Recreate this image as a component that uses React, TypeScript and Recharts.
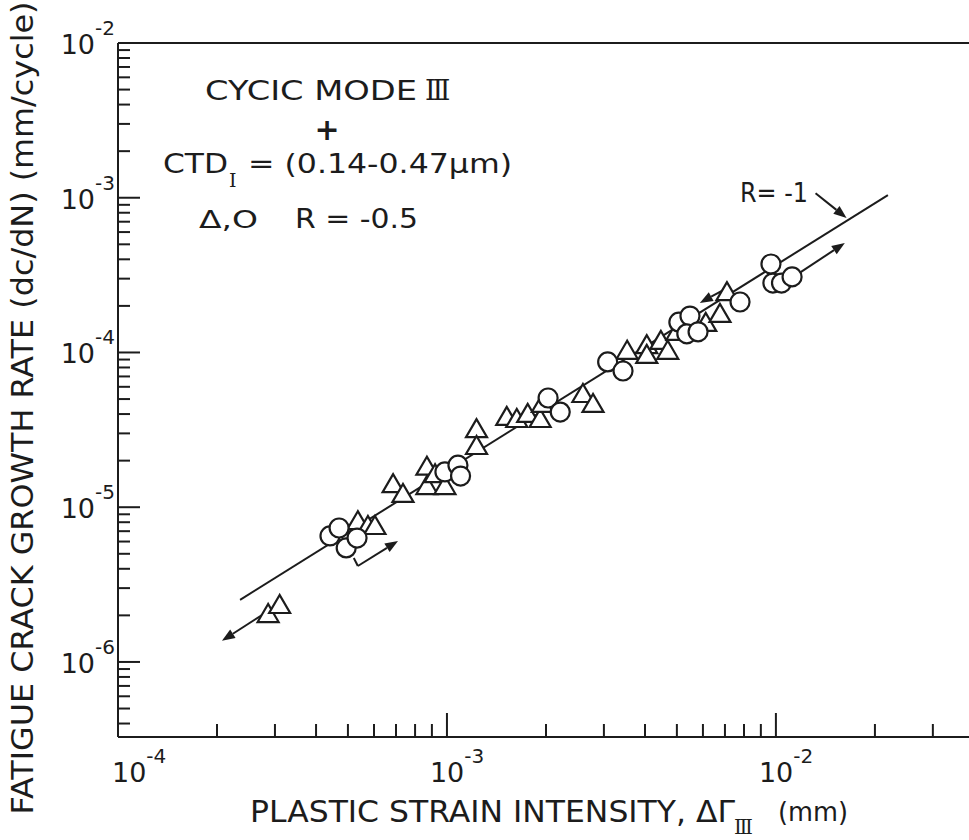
import React from 'react'
import { ComposedChart, Scatter, XAxis, YAxis, ReferenceLine } from 'recharts'

// R = -0.5 data
const triangles = [
  { x: 2.86e-4, y: 2.01e-6 },
  { x: 3.1e-4, y: 2.3e-6 },
  { x: 5.36e-4, y: 8.0e-6 },
  { x: 5.75e-4, y: 7.45e-6 },
  { x: 6.04e-4, y: 7.45e-6 },
  { x: 6.86e-4, y: 1.39e-5 },
  { x: 7.35e-4, y: 1.2e-5 },
  { x: 8.69e-4, y: 1.8e-5 },
  { x: 8.69e-4, y: 1.35e-5 },
  { x: 9.2e-4, y: 1.61e-5 },
  { x: 9.86e-4, y: 1.35e-5 },
  { x: 1.23e-3, y: 3.15e-5 },
  { x: 1.23e-3, y: 2.45e-5 },
  { x: 1.52e-3, y: 3.78e-5 },
  { x: 1.63e-3, y: 3.66e-5 },
  { x: 1.76e-3, y: 3.95e-5 },
  { x: 1.92e-3, y: 3.66e-5 },
  { x: 1.95e-3, y: 4.58e-5 },
  { x: 2.59e-3, y: 5.31e-5 },
  { x: 2.78e-3, y: 4.58e-5 },
  { x: 3.53e-3, y: 1.01e-4 },
  { x: 4.05e-3, y: 1.1e-4 },
  { x: 4.05e-3, y: 9.5e-5 },
  { x: 4.47e-3, y: 1.17e-4 },
  { x: 4.69e-3, y: 1.01e-4 },
  { x: 5.0e-3, y: 1.34e-4 },
  { x: 6.12e-3, y: 1.53e-4 },
  { x: 6.76e-3, y: 1.75e-4 },
  { x: 7.1e-3, y: 2.42e-4 },
]

const circles = [
  { x: 4.41e-4, y: 6.52e-6 },
  { x: 4.7e-4, y: 7.34e-6 },
  { x: 4.94e-4, y: 5.46e-6 },
  { x: 5.33e-4, y: 6.32e-6 },
  { x: 9.86e-4, y: 1.69e-5 },
  { x: 1.08e-3, y: 1.87e-5 },
  { x: 1.1e-3, y: 1.59e-5 },
  { x: 2.03e-3, y: 5.08e-5 },
  { x: 2.21e-3, y: 4.12e-5 },
  { x: 3.08e-3, y: 8.69e-5 },
  { x: 3.43e-3, y: 7.59e-5 },
  { x: 5.07e-3, y: 1.57e-4 },
  { x: 5.48e-3, y: 1.72e-4 },
  { x: 5.36e-3, y: 1.32e-4 },
  { x: 5.8e-3, y: 1.36e-4 },
  { x: 7.78e-3, y: 2.12e-4 },
  { x: 9.66e-3, y: 3.73e-4 },
  { x: 9.79e-3, y: 2.81e-4 },
  { x: 1.04e-2, y: 2.81e-4 },
  { x: 1.12e-2, y: 3.08e-4 },
]

// R = -1 fit
const fitLine = [
  { x: 2.35e-4, y: 2.52e-6 },
  { x: 2.19e-2, y: 1.04e-3 },
]

// arrows drawn on the plot (from -> to), head at the "to" end
const arrows = [
  { from: { x: 2.74e-4, y: 2.01e-6 }, to: { x: 2.07e-4, y: 1.37e-6 }, head: true },
  { from: { x: 5.21e-4, y: 4.7e-6 }, to: { x: 5.36e-4, y: 4.17e-6 }, head: false },
  { from: { x: 5.36e-4, y: 4.17e-6 }, to: { x: 7.1e-4, y: 6.05e-6 }, head: true },
  { from: { x: 7.1e-3, y: 2.61e-4 }, to: { x: 5.87e-3, y: 2.09e-4 }, head: true },
  { from: { x: 1.18e-2, y: 3.27e-4 }, to: { x: 1.62e-2, y: 5.1e-4 }, head: true },
  { from: { x: 1.32e-2, y: 1.07e-3 }, to: { x: 1.64e-2, y: 7.4e-4 }, head: true },
]

const xDecades = [1e-4, 1e-3, 1e-2]
const yDecades = [1e-6, 1e-5, 1e-4, 1e-3, 1e-2]
const minorSteps = [2, 3, 4, 5, 6, 7, 8, 9]

const xDomain = [1e-4, Math.pow(10, -1.413)]
const yDomain = [Math.pow(10, -6.485), 1e-2]

const ink = '#1c1c1c'
const font = '"DejaVu Sans", sans-serif'
const serif = '"DejaVu Serif", serif'

const withMinor = (decades: number[], lo: number, hi: number) => {
  const out: number[] = []
  ;[decades[0] / 10, ...decades].forEach((d) => {
    out.push(d)
    minorSteps.forEach((k) => out.push(d * k))
  })
  return out.filter((v) => v >= lo * 0.999 && v <= hi * 1.001).sort((a, b) => a - b)
}

const xTicks = withMinor(xDecades, xDomain[0], xDomain[1])
const yTicks = withMinor(yDecades, yDomain[0], yDomain[1])

const isMajor = (v: number) => {
  const lg = Math.log10(v)
  return Math.abs(lg - Math.round(lg)) < 1e-6
}

function YTick(props: any) {
  const { x, y, payload } = props
  const major = isMajor(payload.value)
  return (
    <g>
      <line x1={x} y1={y} x2={x + (major ? 22 : 12)} y2={y} stroke={ink} strokeWidth={2} />
      {major && (
        <text x={x - 3} y={y + 11} textAnchor="end" fontFamily={font} fontSize={27} fill={ink}>
          10
          <tspan dy={-19} fontSize={20}>
            {Math.round(Math.log10(payload.value))}
          </tspan>
        </text>
      )}
    </g>
  )
}

function XTick(props: any) {
  const { x, y, payload } = props
  const major = isMajor(payload.value)
  const first = Math.abs(payload.value - xDomain[0]) < 1e-9
  return (
    <g>
      <line x1={x} y1={y} x2={x} y2={y - (major ? 24 : 13)} stroke={ink} strokeWidth={2} />
      {major && (
        <text x={first ? x - 6 : x - 17} y={y + 45} fontFamily={font} fontSize={27} fill={ink}>
          10
          <tspan dy={-19} fontSize={20}>
            {Math.round(Math.log10(payload.value))}
          </tspan>
        </text>
      )}
    </g>
  )
}

const Tri = (p: any) => (
  <polygon
    points={`${p.cx},${p.cy - 11} ${p.cx - 10.5},${p.cy + 7} ${p.cx + 10.5},${p.cy + 7}`}
    fill="#fff"
    stroke={ink}
    strokeWidth={2.2}
  />
)
const Ring = (p: any) => <circle cx={p.cx} cy={p.cy} r={9.5} fill="#fff" stroke={ink} strokeWidth={2.2} />

const arrowShape = (head: boolean) => (p: any) => {
  const { x1, y1, x2, y2 } = p
  const a = Math.atan2(y2 - y1, x2 - x1)
  const L = 13
  const W = 5
  const bx = x2 - L * Math.cos(a)
  const by = y2 - L * Math.sin(a)
  const px = -Math.sin(a) * W
  const py = Math.cos(a) * W
  return (
    <g>
      <line x1={x1} y1={y1} x2={head ? bx : x2} y2={head ? by : y2} stroke={ink} strokeWidth={2} />
      {head && <polygon points={`${x2},${y2} ${bx + px},${by + py} ${bx - px},${by - py}`} fill={ink} />}
    </g>
  )
}

// roman numeral drawn as lettering: serif "III" squeezed so the serifs run together
const Roman = ({ x, y, size, text }: { x: number; y: number; size: number; text: string }) => (
  <text x={x} y={y} fontFamily={serif} fontSize={size} letterSpacing={-size * 0.12}>
    {text}
  </text>
)

export default function App() {
  return (
    <div style={{ position: 'absolute', left: 0, top: 0, width: 969, height: 840, background: '#fff' }}>
      <ComposedChart width={969} height={840} margin={{ top: 43, right: 0, bottom: 0, left: 0 }}>
        <XAxis
          type="number"
          dataKey="x"
          scale="log"
          domain={xDomain}
          allowDataOverflow
          ticks={xTicks}
          interval={0}
          tick={(p: any) => <XTick {...p} />}
          tickLine={false}
          tickSize={0}
          tickMargin={0}
          axisLine={{ stroke: ink, strokeWidth: 2 }}
          height={103}
        />
        <YAxis
          type="number"
          dataKey="y"
          scale="log"
          domain={yDomain}
          allowDataOverflow
          ticks={yTicks}
          interval={0}
          tick={(p: any) => <YTick {...p} />}
          tickLine={false}
          tickSize={0}
          tickMargin={0}
          axisLine={{ stroke: ink, strokeWidth: 2 }}
          width={118}
        />
        <ReferenceLine y={1e-2} stroke={ink} strokeWidth={2} />
        <Scatter
          data={fitLine}
          line={{ stroke: ink, strokeWidth: 2 }}
          shape={() => <g />}
          isAnimationActive={false}
        />
        {arrows.map((a, i) => (
          <ReferenceLine key={i} segment={[a.from, a.to]} shape={arrowShape(a.head)} />
        ))}
        <Scatter data={triangles} shape={Tri} isAnimationActive={false} />
        <Scatter data={circles} shape={Ring} isAnimationActive={false} />
      </ComposedChart>

      <svg
        width={969}
        height={840}
        style={{ position: 'absolute', left: 0, top: 0, pointerEvents: 'none' }}
        fontFamily={font}
        fill={ink}
      >
        <text
          transform="translate(33,408) rotate(-90)"
          textAnchor="middle"
          fontSize={30}
          textLength={813}
          lengthAdjust="spacingAndGlyphs"
        >
          FATIGUE CRACK GROWTH RATE (dc/dN) (mm/cycle)
        </text>

        <text x={250} y={822} fontSize={31} textLength={485} lengthAdjust="spacingAndGlyphs">
          PLASTIC STRAIN INTENSITY, ΔΓ
        </text>
        <Roman x={734} y={834} size={20} text="III" />
        <text x={778} y={821} fontSize={27} textLength={70} lengthAdjust="spacingAndGlyphs">
          (mm)
        </text>

        <text x={205} y={100} fontSize={27} textLength={212} lengthAdjust="spacingAndGlyphs">
          CYCIC MODE
        </text>
        <Roman x={425} y={100} size={27} text="III" />
        <text x={327} y={140} fontSize={30} fontWeight="bold" textAnchor="middle">
          +
        </text>
        <text x={163} y={173} fontSize={27} textLength={65} lengthAdjust="spacingAndGlyphs">
          CTD
        </text>
        <Roman x={229} y={187} size={19} text="I" />
        <text x={248} y={173} fontSize={27} textLength={264} lengthAdjust="spacingAndGlyphs">
          = (0.14-0.47μm)
        </text>
        <text x={199} y={228} fontSize={24} textLength={59} lengthAdjust="spacingAndGlyphs">
          Δ,O
        </text>
        <text x={295} y={228} fontSize={27} textLength={123} lengthAdjust="spacingAndGlyphs">
          R = -0.5
        </text>
        <text x={740} y={202} fontSize={27} textLength={68} lengthAdjust="spacingAndGlyphs">
          R= -1
        </text>
      </svg>
    </div>
  )
}
